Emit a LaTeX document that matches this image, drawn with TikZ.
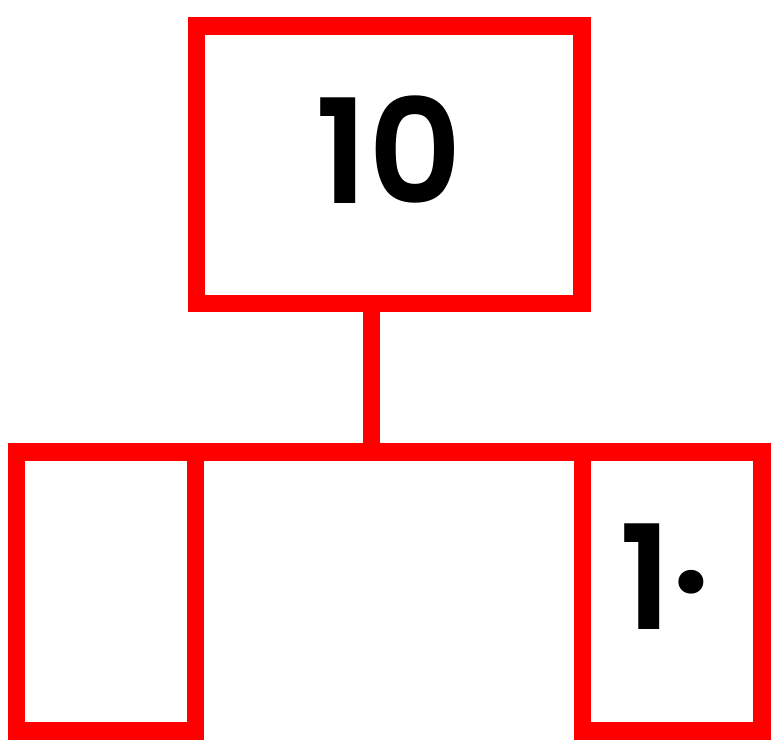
\documentclass[tikz,border=0pt]{standalone}
\usepackage{fontspec}
\setmainfont{Poppins}
\newfontfamily\numfont{Poppins SemiBold}
\begin{document}
\begin{tikzpicture}[x=1pt,y=-1pt,
  boxstyle/.style={draw=red, line width=17.5pt, inner sep=0pt, outer sep=0pt, fill=white},
  linkstyle/.style={draw=red, line width=17.5pt},
  numstyle/.style={inner sep=0pt, text=black, font=\fontsize{145}{145}\numfont}]
\useasboundingbox (0,0) rectangle (772,743);
\node[boxstyle, minimum width=385.5pt, minimum height=277.5pt] (top) at (389.25,164.75) {};
\node[boxstyle, minimum width=179pt, minimum height=279pt] (left) at (106,591.5) {};
\node[boxstyle, minimum width=179.5pt, minimum height=279pt] (right) at (672.25,591.5) {};
\coordinate (ctop) at ([xshift=-17.75pt]top.south);
\coordinate (junc) at (ctop |- left.north);
\draw[linkstyle] (ctop) -- (junc);
\draw[linkstyle] (left.north) -- (right.north);
\node[numstyle] (ten) at (389,150) {10};
\node[numstyle] (one) at (665,577) {1·};
\end{tikzpicture}
\end{document}
